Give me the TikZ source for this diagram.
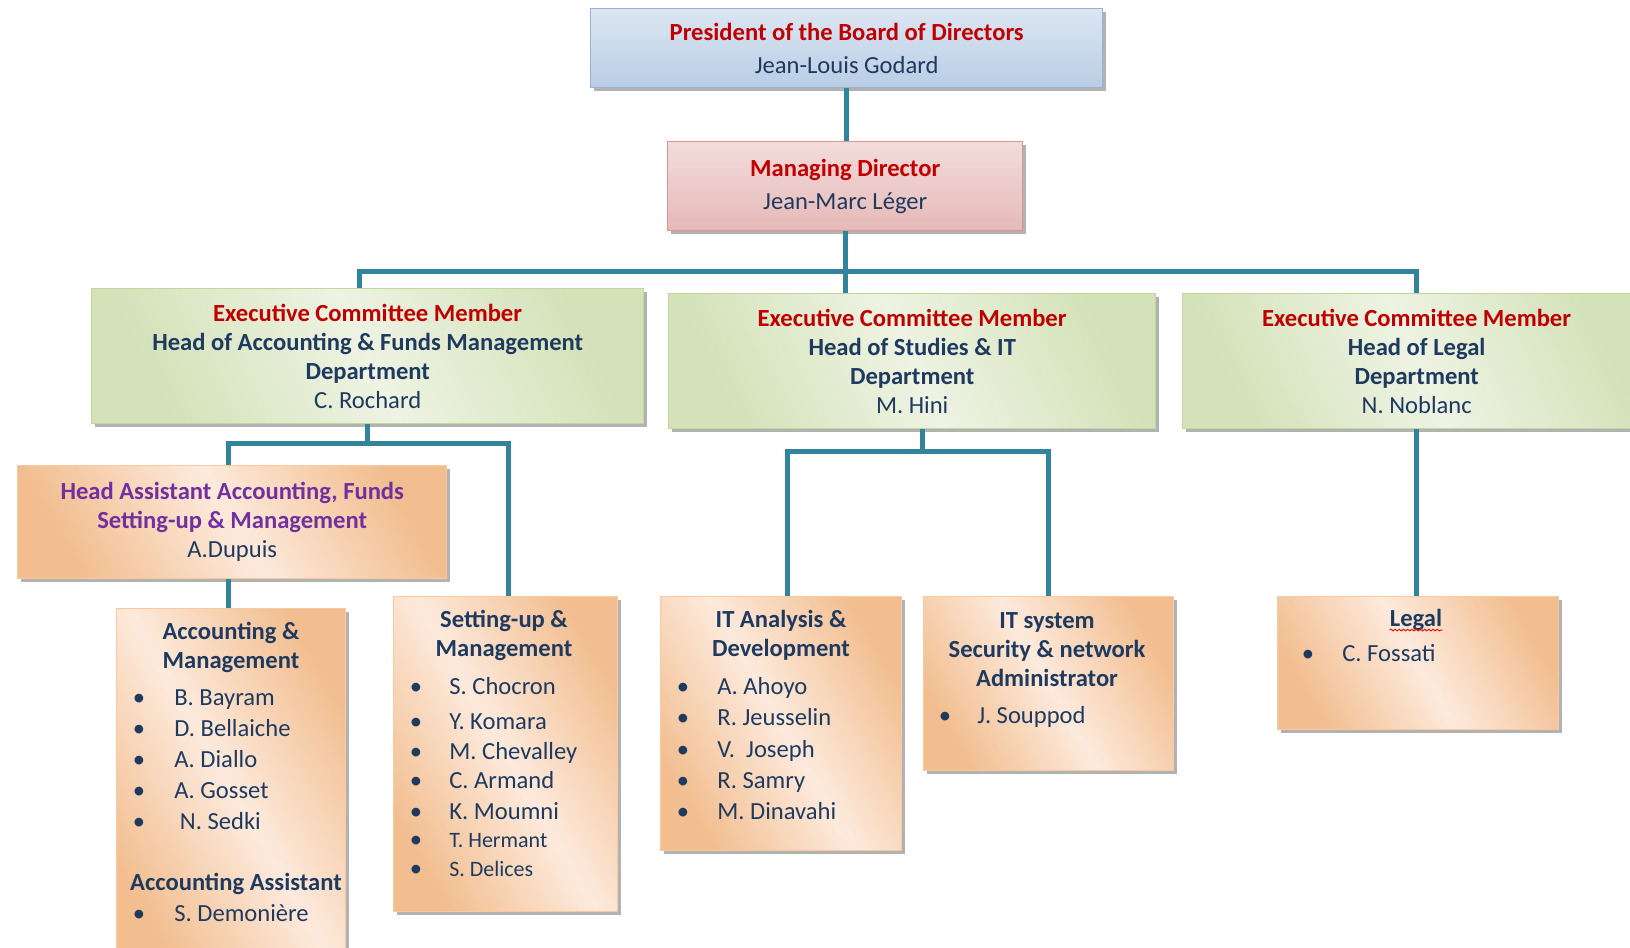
\documentclass[tikz,border=0pt]{standalone}
\usepackage{fontspec}
\setmainfont{Carlito}
\usetikzlibrary{shadows,decorations.pathmorphing}
\definecolor{cLink}{HTML}{31849B}
\definecolor{cRed}{HTML}{C00000}
\definecolor{cNavy}{HTML}{1F3A5F}
\definecolor{cPurp}{HTML}{7030A0}
\definecolor{bT}{HTML}{DCE6F2}
\definecolor{bB}{HTML}{B9CDE5}
\definecolor{bE}{HTML}{95B3D7}
\definecolor{pT}{HTML}{F2DCDB}
\definecolor{pB}{HTML}{E6B9B8}
\definecolor{pE}{HTML}{D99694}
\definecolor{gL}{HTML}{EEF3E3}
\definecolor{gD}{HTML}{D3E2B8}
\definecolor{gE}{HTML}{C3D69B}
\definecolor{oL}{HTML}{FDEADC}
\definecolor{oD}{HTML}{F2BE90}
\definecolor{oE}{HTML}{F9C9A0}
\newcommand\pxu{0.02cm}
\newcommand\cfont{\fontsize{14}{16.5}\selectfont}
\newcommand\rd[1]{\textcolor{cRed}{\bfseries #1}}
\newcommand\pu[1]{\textcolor{cPurp}{\bfseries #1}}
\tikzset{
  link/.style={cLink,line width=2.8pt},
  card/.style={draw,line width=.8pt,inner sep=0pt,anchor=north west,align=center,
    font=\cfont,text=cNavy,
    drop shadow={shadow xshift=1.6pt,shadow yshift=-1.6pt,fill=black,opacity=.3}},
  sz/.style 2 args={minimum width=#1*\pxu,minimum height=#2*\pxu},
  bluebox/.style={card,draw=bE,top color=bT,bottom color=bB},
  pinkbox/.style={card,draw=pE,top color=pT,bottom color=pB},
  greenbox/.style={card,draw=gE,left color=gD,right color=gD,middle color=gL,shading angle=115},
  orangebox/.style={card,draw=oE,left color=oD,right color=oD,middle color=oL,shading angle=120},
  ttl/.style={font=\cfont\bfseries,text=cNavy,align=center,inner sep=0pt},
  nm/.style={font=\cfont,text=cNavy,inner sep=0pt,text height=10pt,text depth=3pt,anchor=west},
  bul/.style={nm,anchor=center},
}
\begin{document}
\begin{tikzpicture}[x=\pxu,y=-\pxu]
  \useasboundingbox (0,0) rectangle (1630,947);
  \node[bluebox,sz={512}{79}] (pres) at (590,8)
    {\rd{President of the Board of Directors}\\[2.4pt]Jean-Louis Godard};
  \node[pinkbox,sz={355}{89}] (md) at (667,141)
    {\rd{Managing Director}\\[2.4pt]Jean-Marc Léger};
  \node[greenbox,sz={552}{135}] (e1) at (91,288)
    {\rd{Executive Committee Member}\\\textbf{Head of Accounting \& Funds Management}\\\textbf{Department}\\C. Rochard};
  \node[greenbox,sz={487}{135}] (e2) at (668,293)
    {\rd{Executive Committee Member}\\\textbf{Head of Studies \& IT}\\\textbf{Department}\\M. Hini};
  \node[greenbox,sz={468}{135}] (e3) at (1182,293)
    {\rd{Executive Committee Member}\\\textbf{Head of Legal}\\\textbf{Department}\\N. Noblanc};
  \node[orangebox,sz={429}{113}] (ha) at (17,465)
    {\pu{Head Assistant Accounting, Funds}\\\pu{Setting-up \& Management}\\A.Dupuis};

  % teams
  \node[orangebox,sz={229}{360}] (acc) at (116,608) {};
  \node[orangebox,sz={224}{315}] (su) at (393,596) {};
  \node[orangebox,sz={241}{254}] (ita) at (660,596) {};
  \node[orangebox,sz={250}{174}] (its) at (923,596) {};
  \node[orangebox,sz={281}{133}] (lg) at (1277,596) {};

  \node[ttl] (acct) at (231,647) {Accounting \&\\Management};
  \node[ttl] (acca) at (236,884) {Accounting Assistant};
  \node[ttl] (sut) at (504,635) {Setting-up \&\\Management};
  \node[ttl] (itat) at (781,635) {IT Analysis \&\\Development};
  \node[ttl] (itst) at (1047,650) {IT system\\Security \& network\\Administrator};
  \node[ttl] (lgt) at (1416,620) {Legal};
  \draw[red,line width=.5pt,decorate,decoration={snake,amplitude=.5pt,segment length=2.4pt}]
    ([yshift=-2pt]lgt.base west) -- ([yshift=-2pt]lgt.base east);

  \foreach \y/\n [count=\i] in {699/B. Bayram,730/D. Bellaiche,761/A. Diallo,792/A. Gosset,823/\ N. Sedki,915/S. Demonière}{
    \node[bul] (accb\i) at (139,\y) {•};
    \node[nm] (accn\i) at (174,\y) {\n};}
  \foreach \y/\n [count=\i] in {688/S. Chocron,723/Y. Komara,753/M. Chevalley,782/C. Armand,813/K. Moumni}{
    \node[bul] (sub\i) at (416,\y) {•};
    \node[nm] (sun\i) at (449,\y) {\n};}
  \foreach \y/\n [count=\i from 6] in {841/T. Hermant,870/S. Delices}{
    \node[bul] (sub\i) at (416,\y) {•};
    \node[nm,font=\fontsize{12.5}{15}\selectfont] (sun\i) at (449,\y) {\n};}
  \foreach \y/\n [count=\i] in {688/A. Ahoyo,719/R. Jeusselin,751/V.\ \ Joseph,782/R. Samry,813/M. Dinavahi}{
    \node[bul] (itab\i) at (683,\y) {•};
    \node[nm] (itan\i) at (717,\y) {\n};}
  \node[bul] (itsb) at (945,717) {•};
  \node[nm] (itsn) at (977,717) {J. Souppod};
  \node[bul] (lgb) at (1308,655) {•};
  \node[nm] (lgn) at (1342,655) {C. Fossati};

  % connectors
  \draw[link] (pres.south) -- (pres.south |- md.north);
  \draw[link] (md.south) -- ++(0,40) coordinate (bus);
  \draw[link] ([xshift=-8*\pxu]e1.north) |- (bus) -| (e3.north);
  \draw[link] (bus) -- (bus |- e2.north);
  \draw[link] (e1.south) -- ++(0,19) coordinate (j1);
  \draw[link] ([xshift=-4*\pxu]ha.north) |- (j1) -| ([xshift=3*\pxu]su.north);
  \draw[link] ([xshift=-4*\pxu]ha.south) -- ([xshift=-4*\pxu]ha.south |- acc.north);
  \draw[link] ([xshift=10*\pxu]e2.south) -- ++(0,22) coordinate (j2);
  \draw[link] ([xshift=6*\pxu]ita.north) |- (j2) -| (its.north);
  \draw[link] (e3.south) -- (e3.south |- lg.north);
\end{tikzpicture}
\end{document}
